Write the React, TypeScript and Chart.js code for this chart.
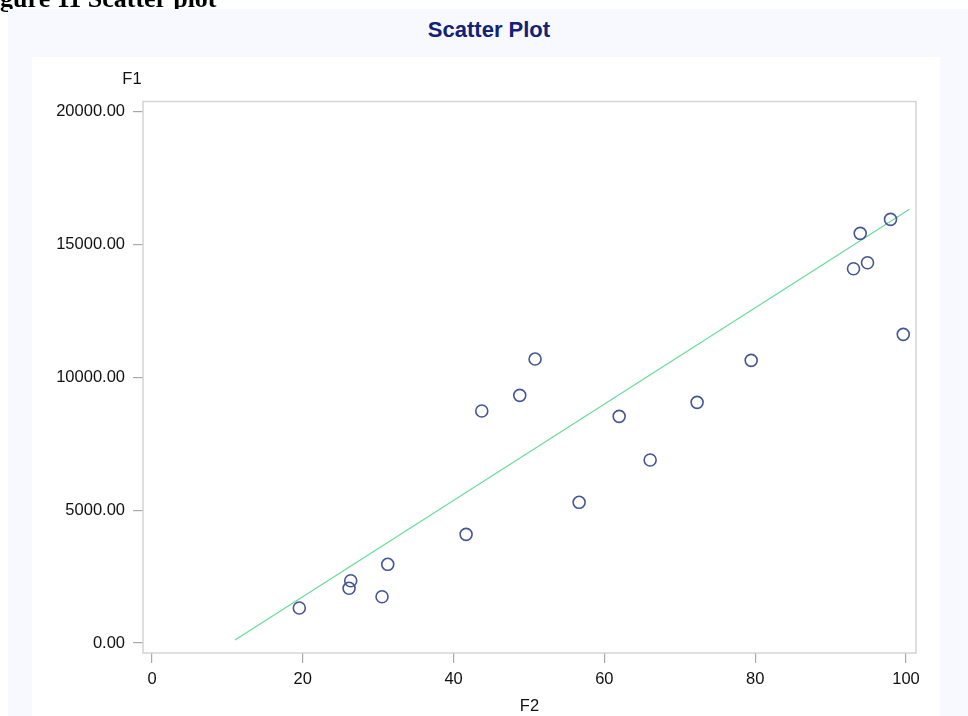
import React, { useEffect, useRef } from "react";
import { Chart, registerables } from "chart.js";

Chart.register(...registerables);

const captionText = "Figure 11 Scatter plot";
const chartTitle = "Scatter Plot";
const xAxisTitle = "F2";
const yAxisTitle = "F1";

const xValues = [19.54, 26.14, 26.36, 30.51, 31.27, 41.66, 43.74, 48.78, 50.81, 56.65, 61.96, 66.07, 72.3, 79.47, 93.04, 93.93, 94.9, 97.95, 99.64];
const yValues = [1317, 2059, 2345, 1743, 2962, 4091, 8732, 9323, 10689, 5296, 8533, 6888, 9060, 10641, 14088, 15421, 14315, 15948, 11619];

const fitX = [11.01, 100.47];
const fitY = [113, 16324];

const xTicks = [0, 20, 40, 60, 80, 100];
const yTicks = [0, 5000, 10000, 15000, 20000];
const xRange = [-1.19, 101.33];
const yRange = [-376, 20384];

const SANS = '"Liberation Sans", Arial, sans-serif';

export default function App() {
  const canvasRef = useRef<HTMLCanvasElement | null>(null);

  useEffect(() => {
    const canvas = canvasRef.current;
    if (!canvas) return;

    const framePlugin = {
      id: "frameAndYTitle",
      beforeDatasetsDraw(chart: any) {
        const { ctx, chartArea } = chart;
        ctx.save();
        ctx.strokeStyle = "#d4d4d4";
        ctx.lineWidth = 1.5;
        ctx.strokeRect(chartArea.left, chartArea.top, chartArea.right - chartArea.left, chartArea.bottom - chartArea.top);
        ctx.restore();
      },
      afterDraw(chart: any) {
        const { ctx, chartArea } = chart;
        ctx.save();
        ctx.font = `16.5px ${SANS}`;
        ctx.fillStyle = "#111";
        ctx.textAlign = "center";
        ctx.textBaseline = "middle";
        ctx.fillText(yAxisTitle, chartArea.left - 11, chartArea.top - 22);
        ctx.restore();
      },
    };

    const chart = new Chart(canvas, {
      type: "scatter",
      data: {
        datasets: [
          {
            type: "line",
            label: "Fit",
            data: fitX.map((x, i) => ({ x, y: fitY[i] })),
            borderColor: "#66dd99",
            borderWidth: 1.2,
            pointRadius: 0,
            fill: false,
            order: 2,
          } as any,
          {
            label: "F1",
            data: xValues.map((x, i) => ({ x, y: yValues[i] })),
            borderColor: "#445694",
            backgroundColor: "rgba(0,0,0,0)",
            borderWidth: 1.6,
            pointRadius: 6,
            pointHoverRadius: 6,
            order: 1,
          },
        ],
      },
      options: {
        responsive: false,
        animation: false,
        layout: { padding: { left: 0, top: 44.5, right: 24, bottom: 0 } },
        plugins: {
          legend: { display: false },
          tooltip: { enabled: false },
        },
        scales: {
          x: {
            type: "linear",
            min: xRange[0],
            max: xRange[1],
            afterBuildTicks: (scale: any) => {
              scale.ticks = xTicks.map((v) => ({ value: v }));
            },
            afterFit: (scale: any) => {
              scale.height = 63;
            },
            grid: {
              display: true,
              drawOnChartArea: false,
              drawTicks: true,
              tickLength: 10,
              color: "#a8a8a8",
              lineWidth: 1.2,
            },
            border: { display: false },
            ticks: {
              padding: 7,
              color: "#111",
              font: { family: SANS, size: 16.5 },
              callback: (v: any) => String(v),
            },
            title: {
              display: true,
              text: xAxisTitle,
              color: "#111",
              font: { family: SANS, size: 16.5 },
              padding: { top: 0, bottom: 0 },
            },
          },
          y: {
            type: "linear",
            min: yRange[0],
            max: yRange[1],
            afterBuildTicks: (scale: any) => {
              scale.ticks = yTicks.map((v) => ({ value: v }));
            },
            afterFit: (scale: any) => {
              scale.width = 111;
            },
            grid: {
              display: true,
              drawOnChartArea: false,
              drawTicks: true,
              tickLength: 10,
              color: "#a8a8a8",
              lineWidth: 1.2,
            },
            border: { display: false },
            ticks: {
              padding: 8,
              color: "#111",
              font: { family: SANS, size: 16.5 },
              callback: (v: any) => Number(v).toFixed(2),
            },
          },
        },
      },
      plugins: [framePlugin],
    });

    return () => {
      chart.destroy();
    };
  }, []);

  return (
    <div>
      <div
        style={{
          position: "fixed",
          left: -23,
          top: -14,
          font: 'bold 26px "Liberation Serif", "Times New Roman", serif',
          lineHeight: "26px",
          whiteSpace: "nowrap",
          color: "#000",
          zIndex: 0,
        }}
      >
        {captionText}
      </div>
      <div
        style={{
          position: "fixed",
          left: 8,
          top: 9,
          width: 980,
          height: 720,
          background: "#f8f9fe",
          zIndex: 1,
        }}
      >
        <div
          style={{
            position: "absolute",
            left: -8,
            top: 9.7,
            width: 978,
            textAlign: "center",
            font: `bold 22px ${SANS}`,
            lineHeight: "22px",
            color: "#112277",
            whiteSpace: "nowrap",
          }}
        >
          {chartTitle}
        </div>
        <div
          style={{
            position: "absolute",
            left: 24,
            top: 48,
            width: 908,
            height: 680,
            background: "#ffffff",
          }}
        >
          <canvas
            ref={canvasRef}
            width={908}
            height={659}
            style={{ display: "block", width: 908, height: 659 }}
          />
        </div>
      </div>
    </div>
  );
}
